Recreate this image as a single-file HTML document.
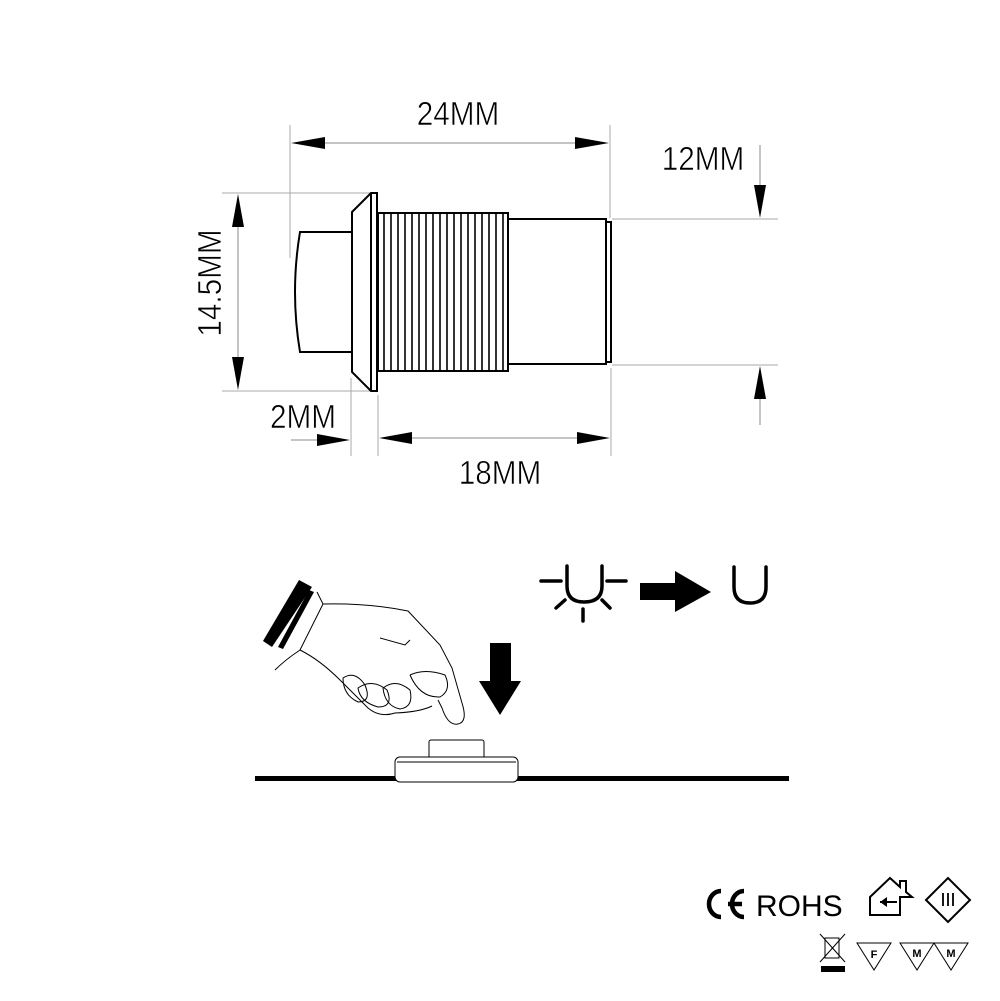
<!DOCTYPE html>
<html><head><meta charset="utf-8"><style>
html,body{margin:0;padding:0;background:#fff;}
svg{display:block}
text{font-family:"Liberation Sans",sans-serif;}
</style></head><body>
<svg width="1000" height="1001" viewBox="0 0 1000 1001" xmlns="http://www.w3.org/2000/svg">
<g stroke="#aaa" stroke-width="1" fill="none">
<line x1="290" y1="125" x2="290" y2="258"/>
<line x1="610" y1="125" x2="610" y2="218"/>
<line x1="222" y1="193" x2="370" y2="193"/>
<line x1="222" y1="391" x2="377" y2="391"/>
<line x1="612" y1="219" x2="778" y2="219"/>
<line x1="612" y1="365" x2="778" y2="365"/>
<line x1="351" y1="378" x2="351" y2="456"/>
<line x1="378" y1="395" x2="378" y2="456"/>
<line x1="611" y1="368" x2="611" y2="456"/>
</g>
<g stroke="#888" stroke-width="1">
<line x1="300" y1="143" x2="600" y2="143"/>
<line x1="238" y1="200" x2="238" y2="385"/>
<line x1="760" y1="145" x2="760" y2="215"/>
<line x1="760" y1="370" x2="760" y2="425"/>
<line x1="291" y1="440" x2="345" y2="440"/>
<line x1="385" y1="438" x2="605" y2="438"/>
</g>
<g fill="#000">
<polygon points="291,143 325,137 325,149"/>
<polygon points="609,143 575,137 575,149"/>
<polygon points="238,194 232,227 244,227"/>
<polygon points="238,390 232,357 244,357"/>
<polygon points="760,218 754,185 766,185"/>
<polygon points="760,366 754,399 766,399"/>
<polygon points="350,440 317,434 317,446"/>
<polygon points="379,438 412,432 412,444"/>
<polygon points="610,438 577,432 577,444"/>
</g>
<g font-size="33" fill="#000" stroke="#fff" stroke-width="0.6">
<text x="458" y="125" text-anchor="middle" transform="translate(458 0) scale(0.9 1) translate(-458 0)">24MM</text>
<text x="703" y="170" text-anchor="middle" transform="translate(703 0) scale(0.9 1) translate(-703 0)">12MM</text>
<text x="303" y="428" text-anchor="middle" transform="translate(303 0) scale(0.9 1) translate(-303 0)">2MM</text>
<text x="500" y="484" text-anchor="middle" transform="translate(500 0) scale(0.9 1) translate(-500 0)">18MM</text>
<text x="0" y="0" text-anchor="middle" transform="translate(221 283) rotate(-90) scale(0.9 1)">14.5MM</text>
</g>
<g stroke="#000" stroke-width="2" fill="#fff">
<path d="M352,232 L300,232 Q290,292 300,352 L352,352 Z"/>
<polygon points="352,212 371,193 377,193 377,391 371,391 352,372"/>
<line x1="371" y1="193" x2="371" y2="391"/>
<rect x="378" y="213" width="130" height="158"/>
<rect x="508" y="219" width="98" height="145"/>
<rect x="606" y="222" width="5" height="140"/>
</g>
<g stroke="#000" stroke-width="1.6">
<line x1="384" y1="214" x2="384" y2="370"/><line x1="391" y1="214" x2="391" y2="370"/>
<line x1="398" y1="214" x2="398" y2="370"/><line x1="405" y1="214" x2="405" y2="370"/>
<line x1="412" y1="214" x2="412" y2="370"/><line x1="419" y1="214" x2="419" y2="370"/>
<line x1="426" y1="214" x2="426" y2="370"/><line x1="433" y1="214" x2="433" y2="370"/>
<line x1="440" y1="214" x2="440" y2="370"/><line x1="447" y1="214" x2="447" y2="370"/>
<line x1="454" y1="214" x2="454" y2="370"/><line x1="461" y1="214" x2="461" y2="370"/>
<line x1="468" y1="214" x2="468" y2="370"/><line x1="475" y1="214" x2="475" y2="370"/>
<line x1="482" y1="214" x2="482" y2="370"/><line x1="489" y1="214" x2="489" y2="370"/>
<line x1="496" y1="214" x2="496" y2="370"/><line x1="503" y1="214" x2="503" y2="370"/>
</g>
<!-- hand -->
<polygon points="263,641 299,580 312,587 272,647" fill="#000"/>
<polygon points="278,647 309,590 314,592 283,649" fill="#000"/>
<g stroke="#000" stroke-width="1" fill="none">
<path d="M317,592 L323,604 Q370,603 408,611 L440,645 L452,668 L462,703 Q468,722 458,724 Q448,726 442,708 L438,700"/>
<path d="M323,604 L300,650 Q285,660 275,670"/>
<path d="M300,650 Q320,660 340,680 Q360,700 368,708 Q380,718 395,713 Q420,712 432,706"/>
<path d="M343,678 Q355,670 365,685 Q372,702 358,702 Q343,695 343,678 Z"/>
<path d="M358,688 Q372,678 387,690 Q394,707 378,707 Q360,702 358,688 Z"/>
<path d="M383,688 Q396,678 410,690 Q414,707 400,709 Q385,706 383,688 Z"/>
<path d="M410,675 Q425,668 445,675 Q452,690 440,697 Q420,698 410,675"/>
<path d="M380,638 L405,645 L410,640"/>
</g>
<rect x="429" y="740" width="55" height="18" rx="2" fill="#fff" stroke="#000" stroke-width="1"/>
<rect x="255" y="776" width="534" height="5" fill="#000"/>
<rect x="395" y="757" width="123" height="25" rx="5" fill="#fff" stroke="#000" stroke-width="1"/>
<line x1="397" y1="762" x2="516" y2="762" stroke="#000" stroke-width="1"/>
<polygon points="490,643 511,643 511,681 521,681 500,715 479,681 490,681" fill="#000"/>
<g stroke="#000" stroke-width="3.5" fill="none" stroke-linecap="round">
<path d="M567,566 L567,586 Q567,602 584,602 Q602,602 602,586 L602,566"/>
<line x1="541" y1="581" x2="561" y2="581"/><line x1="607" y1="581" x2="626" y2="581"/>
<line x1="556" y1="608" x2="565" y2="600"/><line x1="610" y1="608" x2="602" y2="600"/>
<line x1="583" y1="609" x2="583" y2="621"/>
<path d="M734,567 L734,587 Q734,603 750,603 Q766,603 766,587 L766,567"/>
</g>
<polygon points="640,583 675,583 675,571 711,592 675,612 675,600 640,600" fill="#000"/>
<!-- certification -->
<g stroke="#000" stroke-width="4.5" fill="none">
<path d="M721,891 A12,13 0 1 0 721,917"/>
<path d="M744,891 A12,13 0 1 0 744,917"/>
<line x1="728" y1="904" x2="742" y2="904"/>
</g>
<text x="756" y="916" font-size="30" fill="#000">ROHS</text>
<g stroke="#000" stroke-width="2" fill="none">
<path d="M870,897 L890,878 L900,887 L900,881 L906,881 L906,892 L912,897 L900,897 L900,915 L870,915 Z"/>
<line x1="880" y1="902" x2="897" y2="902"/>
<polygon points="926,900 948,878 970,900 948,922"/>
</g>
<polygon points="880,902 887,897 887,907" fill="#000"/>
<g stroke="#000" stroke-width="1.8"><line x1="943" y1="893" x2="943" y2="906"/><line x1="948" y1="893" x2="948" y2="906"/><line x1="953" y1="893" x2="953" y2="906"/></g>
<g stroke="#000" stroke-width="1" fill="none">
<rect x="825" y="938" width="14" height="20"/>
<line x1="820" y1="934" x2="845" y2="962"/><line x1="845" y1="934" x2="820" y2="962"/>
<polygon points="857,943 891,943 874,970"/>
<polygon points="900,943 934,943 917,970"/>
<polygon points="934,943 968,943 951,970"/>
</g>
<rect x="821" y="966" width="24" height="6" fill="#000"/>
<text x="874" y="958" font-size="11" font-weight="bold" text-anchor="middle">F</text>
<text x="917" y="957" font-size="11" font-weight="bold" text-anchor="middle">M</text>
<text x="951" y="957" font-size="11" font-weight="bold" text-anchor="middle">M</text>
</svg>
</body></html>
